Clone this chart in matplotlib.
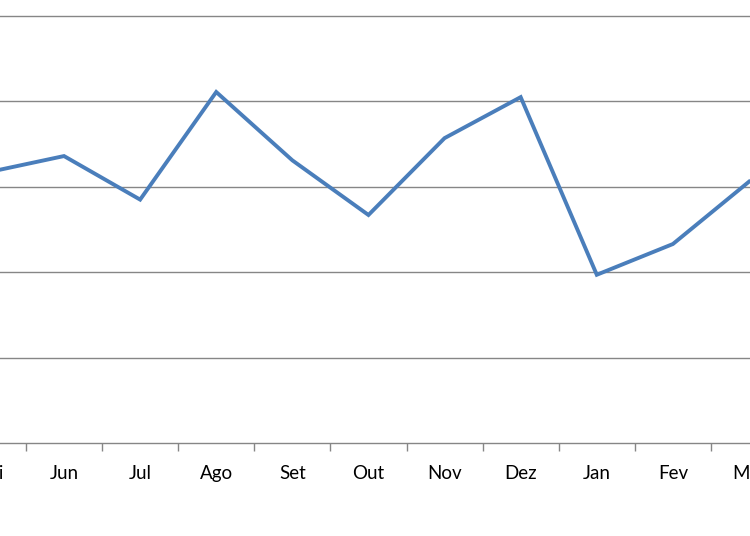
import matplotlib.pyplot as plt
from matplotlib.ticker import FixedLocator

months = ["Mai", "Jun", "Jul", "Ago", "Set", "Out", "Nov", "Dez", "Jan", "Fev", "Mar"]
values = [3.17, 3.36, 2.85, 4.11, 3.31, 2.67, 3.57, 4.05, 1.97, 2.33, 3.06]
grid_levels = [1, 2, 3, 4, 5]

fig = plt.figure(figsize=(7.5, 5.36), dpi=100)
ax = fig.add_axes([0, 1 - 443 / 536, 1, 443 / 536])

x = list(range(len(months)))
ax.plot(x, values, color="#4A7EBB", linewidth=2.8, solid_joinstyle="miter", zorder=3)

for g in grid_levels:
    ax.axhline(g, color="#868686", linewidth=1.0, zorder=1)

# month labels as annotations so the one left of the view ("Mai") still shows its tail
for xi, m in zip(x, months):
    ax.annotate(m, xy=(xi, 0), xycoords=("data", "axes fraction"),
                xytext=(0, -22), textcoords="offset points",
                ha="center", va="center", fontsize=13.5,
                family=["Lato", "DejaVu Sans"], color="#000000",
                annotation_clip=False)

ax.set_xticks([])
ax.xaxis.set_minor_locator(FixedLocator([i + 0.5 for i in range(len(months))]))
ax.tick_params(axis="x", which="minor", length=6, width=1, color="#868686", direction="out")
ax.set_yticks([])

# set limits after the ticks, otherwise set_xticks widens the view
ax.set_xlim(0.159, 10.013)
ax.set_ylim(0, 443 / 85.4)

for s in ["left", "right", "top"]:
    ax.spines[s].set_visible(False)
ax.spines["bottom"].set_color("#868686")
ax.spines["bottom"].set_linewidth(1.0)

fig.savefig("out.png", dpi=100)
